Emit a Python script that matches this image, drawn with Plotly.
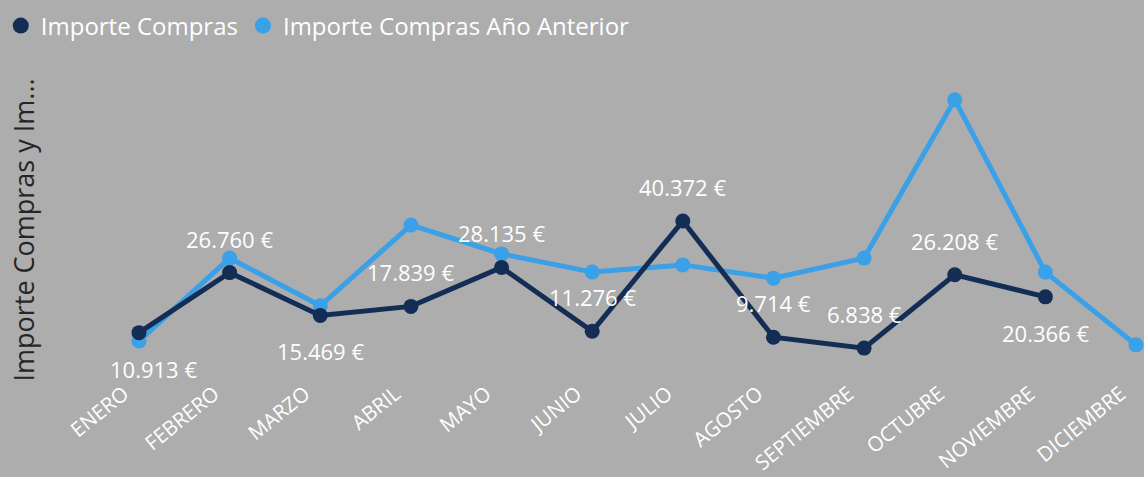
import plotly.graph_objects as go

meses = ["ENERO", "FEBRERO", "MARZO", "ABRIL", "MAYO", "JUNIO", "JULIO",
         "AGOSTO", "SEPTIEMBRE", "OCTUBRE", "NOVIEMBRE", "DICIEMBRE"]
importe_compras = [10913, 26760, 15469, 17839, 28135, 11276, 40372,
                   9714, 6838, 26208, 20366, None]
importe_anterior = [8700, 30600, 18000, 39300, 31700, 26900, 28800,
                    25300, 30600, 72400, 26900, 7700]
label_pos = ["below", "above", "below", "above", "above", "above", "above",
             "above", "above", "above", "below", None]
label_xshift = {0: 14}

DARK = "#142d55"
LIGHT = "#3aa0e8"
BG = "#adadad"
FONT = "Open Sans"

fig = go.Figure()
idx = list(range(len(meses)))

fig.add_trace(go.Scatter(
    x=idx, y=importe_anterior, mode="lines+markers",
    line=dict(color=LIGHT, width=5), marker=dict(color=LIGHT, size=15),
    showlegend=False, hoverinfo="skip", cliponaxis=False))
fig.add_trace(go.Scatter(
    x=idx, y=importe_compras, mode="lines+markers",
    line=dict(color=DARK, width=5), marker=dict(color=DARK, size=15),
    showlegend=False, hoverinfo="skip", cliponaxis=False))
# legend entries (circles only)
fig.add_trace(go.Scatter(x=[None], y=[None], mode="markers", name="Importe Compras",
                         marker=dict(color=DARK, size=16)))
fig.add_trace(go.Scatter(x=[None], y=[None], mode="markers", name="Importe Compras Año Anterior",
                         marker=dict(color=LIGHT, size=16)))

for i, v in enumerate(importe_compras):
    if v is None:
        continue
    txt = f"{v:,}".replace(",", ".") + " €"
    fig.add_annotation(x=i, y=v, text=txt, showarrow=False,
                       yshift=34 if label_pos[i] == "above" else -36,
                       xshift=label_xshift.get(i, 0),
                       font=dict(family=FONT, size=22, color="white"))

fig.update_layout(
    width=1144, height=477,
    paper_bgcolor=BG, plot_bgcolor=BG,
    margin=dict(l=50, r=0, t=80, b=97, autoexpand=False),
    font=dict(family=FONT, color="white"),
    legend=dict(orientation="h", x=-0.045, y=1.18, xanchor="left", yanchor="middle",
                font=dict(family=FONT, size=24, color="white"),
                itemwidth=30, tracegroupgap=0, bgcolor="rgba(0,0,0,0)"),
)
fig.update_xaxes(
    tickmode="array", tickvals=[i - 0.17 for i in idx], ticktext=meses, tickangle=-39,
    range=[-0.982, 11.088], showgrid=False, zeroline=False, showline=False,
    automargin=False, ticklabelstandoff=-3,
    tickfont=dict(family=FONT, size=20.5, color="white"), ticks="", ticklen=0)
fig.update_yaxes(
    range=[-1580, 77600], showgrid=False, zeroline=False, showline=False,
    showticklabels=False, ticks="", automargin=False,
    title=dict(text="Importe Compras y Im...", standoff=6,
               font=dict(family=FONT, size=27, color="#252525")))

fig.write_html("out.html", config={"displayModeBar": False},
               post_script="document.body.style.margin='0';document.body.style.overflow='hidden';")
